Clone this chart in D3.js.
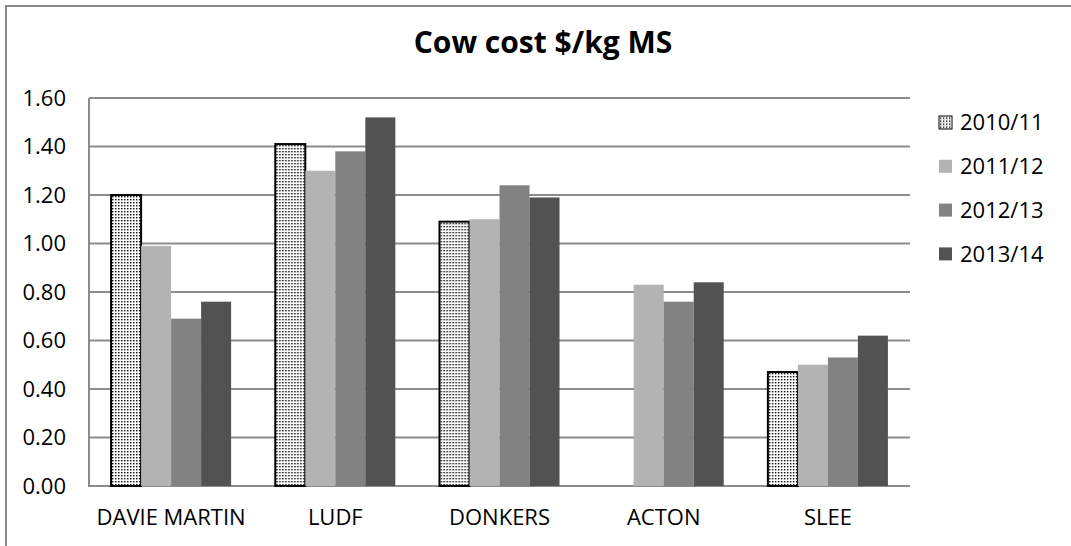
<!DOCTYPE html>
<html>
<head>
<meta charset="utf-8">
<script src="https://cdn.jsdelivr.net/npm/d3@7"></script>
<style>
  html, body { margin: 0; padding: 0; background: #fff; }
  svg { display: block; }
</style>
</head>
<body>
<svg id="chart" width="1071" height="546"></svg>
<script>
// Cow cost per kg milk solids, by farm and season
const farms = ["DAVIE MARTIN", "LUDF", "DONKERS", "ACTON", "SLEE"];
const seasons = ["2010/11", "2011/12", "2012/13", "2013/14"];
const cost2010_11 = [1.20, 1.41, 1.09, null, 0.47];
const cost2011_12 = [0.99, 1.30, 1.10, 0.83, 0.50];
const cost2012_13 = [0.69, 1.38, 1.24, 0.76, 0.53];
const cost2013_14 = [0.76, 1.52, 1.19, 0.84, 0.62];
const yTicks = [0, 0.2, 0.4, 0.6, 0.8, 1.0, 1.2, 1.4, 1.6];

const seriesValues = [cost2010_11, cost2011_12, cost2012_13, cost2013_14];
const fills = ["url(#dots)", "#b3b3b3", "#828282", "#525252"];

const svg = d3.select("#chart");
const font = "'Open Sans', 'Liberation Sans', sans-serif";

// dotted fill for the first season
const defs = svg.append("defs");
const pat = defs.append("pattern")
  .attr("id", "dots")
  .attr("patternUnits", "userSpaceOnUse")
  .attr("width", 3).attr("height", 3);
pat.append("rect").attr("width", 3).attr("height", 3).attr("fill", "#fff");
pat.append("rect").attr("x", 1).attr("y", 1).attr("width", 1.4).attr("height", 1.4).attr("fill", "#000");

// outer chart frame
svg.append("rect")
  .attr("x", 6).attr("y", 6)
  .attr("width", 1200).attr("height", 700)
  .attr("fill", "none")
  .attr("stroke", "#8a8a8a")
  .attr("stroke-width", 2);

const plot = { left: 89, right: 910, top: 98, bottom: 486 };

const x0 = d3.scaleBand()
  .domain(farms)
  .range([plot.left, plot.right])
  .paddingInner(0.269)
  .paddingOuter(0.1345);

const x1 = d3.scaleBand()
  .domain(seasons)
  .range([0, x0.bandwidth()]);

const y = d3.scaleLinear()
  .domain([0, 1.6])
  .range([plot.bottom, plot.top]);

// horizontal gridlines
svg.append("g")
  .selectAll("line")
  .data(yTicks)
  .join("line")
  .attr("x1", plot.left).attr("x2", plot.right)
  .attr("y1", d => y(d)).attr("y2", d => y(d))
  .attr("stroke", "#8c8c8c")
  .attr("stroke-width", 2);

// value axis line
svg.append("line")
  .attr("x1", plot.left).attr("x2", plot.left)
  .attr("y1", plot.top).attr("y2", plot.bottom + 1)
  .attr("stroke", "#8c8c8c")
  .attr("stroke-width", 2);

// value axis labels
const yAxis = d3.axisLeft(y)
  .tickValues(yTicks)
  .tickFormat(d3.format(".2f"))
  .tickSize(0)
  .tickPadding(23);
const yg = svg.append("g")
  .attr("transform", `translate(${plot.left},0)`)
  .call(yAxis);
yg.select(".domain").remove();
yg.selectAll("text")
  .attr("font-family", font)
  .attr("font-size", 22)
  .attr("fill", "#000");

// bars
const groups = svg.append("g")
  .selectAll("g")
  .data(farms)
  .join("g")
  .attr("transform", d => `translate(${x0(d)},0)`);

groups.selectAll("rect")
  .data((farm, i) => seasons.map((s, k) => ({ season: s, k, value: seriesValues[k][i] })))
  .join("rect")
  .filter(d => d.value != null)
  .attr("x", d => x1(d.season))
  .attr("width", x1.bandwidth())
  .attr("y", d => y(d.value))
  .attr("height", d => y(0) - y(d.value))
  .attr("fill", d => fills[d.k])
  .attr("stroke", d => d.k === 0 ? "#000" : "none")
  .attr("stroke-width", 2);

// category axis labels
const xAxis = d3.axisBottom(x0).tickSize(0).tickPadding(23);
const xg = svg.append("g")
  .attr("transform", `translate(0,${plot.bottom})`)
  .call(xAxis);
xg.select(".domain").remove();
xg.selectAll("text")
  .attr("font-family", font)
  .attr("font-size", 22)
  .attr("fill", "#000");

// title
svg.append("text")
  .attr("x", 543).attr("y", 53)
  .attr("text-anchor", "middle")
  .attr("font-family", font)
  .attr("font-weight", "bold")
  .attr("font-size", 30)
  .attr("fill", "#000")
  .text("Cow cost $/kg MS");

// legend
const legend = svg.append("g")
  .selectAll("g")
  .data(seasons)
  .join("g")
  .attr("transform", (d, i) => `translate(939,${122.5 + i * 43.8})`);

legend.append("rect")
  .attr("x", 0).attr("y", -6.5)
  .attr("width", 13).attr("height", 13)
  .attr("fill", (d, i) => fills[i])
  .attr("stroke", (d, i) => i === 0 ? "#000" : "none")
  .attr("stroke-width", 1);

legend.append("text")
  .attr("x", 21).attr("y", 0)
  .attr("dy", "0.36em")
  .attr("font-family", font)
  .attr("font-size", 22)
  .attr("fill", "#000")
  .text(d => d);
</script>
</body>
</html>
